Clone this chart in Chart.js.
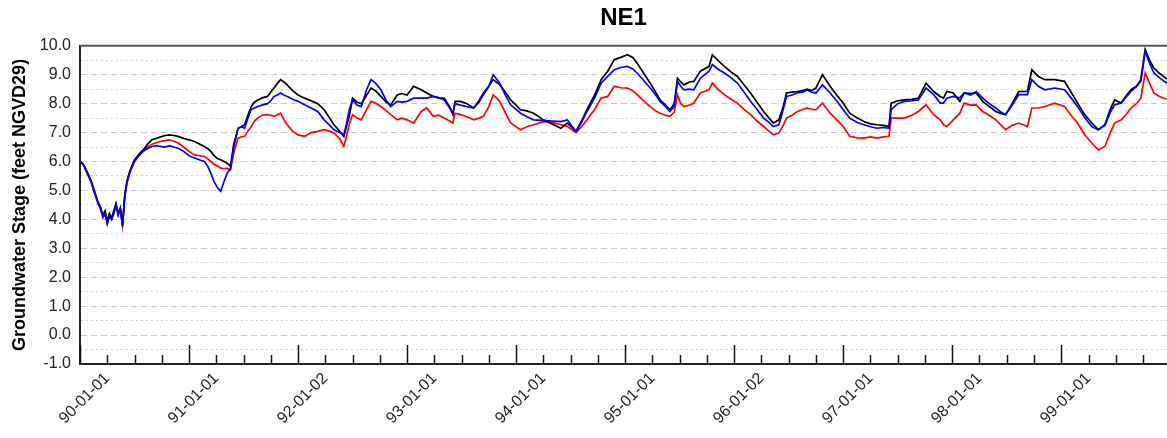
<!DOCTYPE html>
<html><head><meta charset="utf-8">
<script src="https://cdn.jsdelivr.net/npm/chart.js@4.4.0/dist/chart.umd.min.js"></script>
<style>html,body{margin:0;padding:0;background:#fff;} #wrap{width:1167px;height:438px;position:relative;}</style>
</head><body><div id="wrap"><canvas id="c" width="1167" height="438"></canvas></div>
<script>
// decimal years (water-year axis starting 1989-10-01)
const dates = [
1989.75,1989.78,1989.82,1989.85,1989.88,1989.91,1989.94,1989.96,1989.98,1990.00,
1990.02,1990.04,1990.06,1990.08,1990.10,1990.12,1990.14,1990.16,1990.18,1990.21,
1990.25,1990.29,1990.33,1990.37,1990.41,1990.45,1990.49,1990.53,1990.57,1990.61,
1990.65,1990.70,1990.75,1990.80,1990.85,1990.89,1990.92,1990.95,1990.98,1991.01,
1991.04,1991.07,1991.10,1991.13,1991.16,1991.20,1991.23,1991.26,1991.29,1991.32,
1991.35,1991.38,1991.42,1991.47,1991.50,1991.53,1991.56,1991.59,1991.62,1991.65,
1991.70,1991.75,1991.81,1991.87,1991.93,1991.99,1992.04,1992.08,1992.13,1992.17,
1992.20,1992.22,1992.25,1992.29,1992.33,1992.38,1992.42,1992.46,1992.51,1992.56,
1992.60,1992.66,1992.70,1992.75,1992.81,1992.88,1992.93,1992.99,1993.04,1993.09,
1993.14,1993.17,1993.19,1993.24,1993.30,1993.36,1993.41,1993.45,1993.50,1993.54,
1993.60,1993.65,1993.70,1993.75,1993.79,1993.85,1993.91,1994.00,1994.08,1994.16,
1994.22,1994.30,1994.35,1994.40,1994.47,1994.53,1994.59,1994.65,1994.71,1994.77,
1994.82,1994.86,1994.92,1994.98,1995.03,1995.07,1995.12,1995.16,1995.20,1995.23,
1995.26,1995.29,1995.34,1995.38,1995.44,1995.52,1995.55,1995.60,1995.66,1995.72,
1995.78,1995.84,1995.90,1995.96,1996.02,1996.07,1996.11,1996.16,1996.20,1996.23,
1996.28,1996.33,1996.38,1996.42,1996.46,1996.50,1996.56,1996.63,1996.69,1996.75,
1996.81,1996.88,1996.94,1997.00,1997.06,1997.12,1997.17,1997.19,1997.25,1997.31,
1997.38,1997.44,1997.51,1997.58,1997.64,1997.67,1997.70,1997.76,1997.82,1997.86,
1997.92,1997.97,1998.03,1998.09,1998.15,1998.20,1998.24,1998.30,1998.36,1998.44,
1998.48,1998.54,1998.60,1998.69,1998.78,1998.84,1998.90,1998.96,1999.03,1999.09,
1999.15,1999.20,1999.24,1999.30,1999.35,1999.39,1999.44,1999.48,1999.52,1999.56,
1999.60,1999.65,1999.72
];
const seriesBlack = [
6.0,5.9,5.6,5.35,5.0,4.65,4.4,4.15,4.3,3.95,
4.2,4.05,4.3,4.55,4.2,4.4,3.8,4.8,5.3,5.7,
6.05,6.25,6.4,6.6,6.75,6.8,6.85,6.9,6.92,6.9,
6.87,6.8,6.75,6.69,6.6,6.52,6.45,6.35,6.2,6.1,
6.06,6.0,5.94,5.83,6.6,7.15,7.2,7.27,7.6,7.9,
8.05,8.13,8.2,8.25,8.4,8.54,8.7,8.83,8.75,8.65,
8.45,8.3,8.19,8.1,8.0,7.79,7.5,7.27,7.05,6.87,
7.3,7.56,8.19,8.05,8.0,8.3,8.54,8.45,8.25,8.05,
7.96,8.3,8.35,8.3,8.6,8.48,8.37,8.25,8.2,8.19,
7.9,7.62,8.08,8.08,8.0,7.85,8.1,8.37,8.6,8.83,
8.65,8.4,8.13,7.95,7.79,7.75,7.67,7.44,7.3,7.15,
7.33,7.04,7.4,7.79,8.3,8.83,9.12,9.52,9.6,9.69,
9.6,9.4,9.05,8.71,8.4,8.13,7.95,7.79,8.0,8.88,
8.75,8.65,8.75,8.77,9.12,9.29,9.69,9.5,9.29,9.1,
8.94,8.65,8.37,8.05,7.73,7.5,7.33,7.44,7.9,8.37,
8.4,8.42,8.45,8.5,8.45,8.54,9.0,8.6,8.3,8.02,
7.67,7.5,7.38,7.3,7.27,7.25,7.21,8.02,8.1,8.13,
8.15,8.19,8.71,8.42,8.25,8.19,8.42,8.37,8.08,8.37,
8.35,8.37,8.08,7.9,7.73,7.65,7.62,8.0,8.42,8.42,
9.17,8.94,8.83,8.83,8.77,8.4,8.02,7.65,7.33,7.1,
7.27,7.8,8.13,8.02,8.3,8.48,8.6,8.83,9.87,9.5,
9.23,9.05,8.85
];
const seriesBlue = [
6.0,5.9,5.55,5.3,4.95,4.6,4.35,4.1,4.2,3.85,
4.1,4.0,4.2,4.5,4.15,4.35,3.75,4.75,5.25,5.65,
6.0,6.2,6.35,6.45,6.52,6.55,6.52,6.5,6.55,6.5,
6.46,6.35,6.2,6.12,6.05,6.0,5.85,5.6,5.3,5.1,
4.97,5.3,5.6,5.75,6.5,7.15,7.2,7.15,7.5,7.8,
7.85,7.9,7.95,8.0,8.1,8.25,8.3,8.37,8.3,8.25,
8.15,8.08,7.96,7.85,7.73,7.44,7.25,7.1,7.0,6.92,
7.4,7.8,8.13,7.95,7.9,8.5,8.83,8.71,8.48,8.1,
7.9,8.08,8.05,8.08,8.19,8.19,8.19,8.25,8.2,8.13,
7.85,7.67,8.0,7.95,7.9,7.85,8.05,8.31,8.6,9.0,
8.71,8.3,7.96,7.8,7.67,7.55,7.44,7.42,7.4,7.38,
7.44,7.04,7.35,7.73,8.2,8.71,8.94,9.17,9.25,9.29,
9.2,9.06,8.8,8.54,8.3,8.08,7.9,7.73,7.9,8.77,
8.6,8.48,8.5,8.48,8.88,9.12,9.35,9.2,9.06,8.9,
8.71,8.4,8.08,7.8,7.5,7.35,7.21,7.27,7.8,8.25,
8.3,8.37,8.4,8.48,8.4,8.37,8.65,8.37,8.1,7.79,
7.5,7.35,7.27,7.2,7.15,7.18,7.15,7.79,8.0,8.08,
8.1,8.13,8.54,8.31,8.02,8.02,8.19,8.25,8.2,8.37,
8.3,8.42,8.19,8.0,7.85,7.7,7.62,7.95,8.31,8.31,
8.83,8.6,8.48,8.54,8.48,8.2,7.9,7.55,7.21,7.1,
7.25,7.7,7.96,8.02,8.25,8.42,8.6,8.77,9.81,9.4,
9.06,8.9,8.7
];
const seriesRed = [
6.0,5.9,5.6,5.35,5.0,4.65,4.35,4.05,4.2,3.85,
4.15,4.0,4.2,4.5,4.15,4.35,3.8,4.8,5.3,5.7,
6.05,6.2,6.4,6.5,6.6,6.65,6.7,6.72,6.75,6.7,
6.64,6.5,6.35,6.23,6.2,6.17,6.1,6.0,5.9,5.85,
5.77,5.75,5.77,5.7,6.3,6.8,6.85,6.87,7.05,7.2,
7.4,7.5,7.6,7.62,7.6,7.56,7.62,7.67,7.45,7.27,
7.05,6.92,6.87,7.0,7.04,7.1,7.05,6.98,6.8,6.52,
6.95,7.3,7.62,7.5,7.44,7.8,8.08,8.02,7.9,7.75,
7.62,7.44,7.5,7.44,7.33,7.73,7.85,7.56,7.6,7.5,
7.4,7.33,7.67,7.62,7.55,7.44,7.5,7.56,7.9,8.31,
8.08,7.7,7.33,7.2,7.1,7.2,7.27,7.38,7.35,7.27,
7.21,7.0,7.2,7.44,7.8,8.19,8.25,8.6,8.55,8.54,
8.45,8.31,8.1,7.9,7.75,7.67,7.6,7.56,7.7,8.31,
8.0,7.9,7.95,8.02,8.37,8.48,8.71,8.5,8.31,8.15,
8.02,7.8,7.62,7.4,7.21,7.05,6.92,6.98,7.25,7.5,
7.6,7.73,7.8,7.85,7.8,7.79,8.02,7.67,7.45,7.21,
6.87,6.82,6.81,6.85,6.81,6.85,6.87,7.5,7.5,7.5,
7.6,7.73,7.96,7.62,7.44,7.27,7.21,7.44,7.67,8.02,
7.95,7.96,7.73,7.6,7.44,7.25,7.1,7.25,7.33,7.21,
7.85,7.85,7.9,8.02,7.9,7.6,7.33,6.95,6.64,6.4,
6.52,7.0,7.33,7.44,7.65,7.85,8.0,8.19,9.06,8.7,
8.37,8.25,8.15
];
const tickYears = [1990,1991,1992,1993,1994,1995,1996,1997,1998,1999];
const tickLabels = ['90-01-01','91-01-01','92-01-02','93-01-01','94-01-01','95-01-01','96-01-02','97-01-01','98-01-01','99-01-01'];
const yTicks = [-1,-0.5,0,0.5,1,1.5,2,2.5,3,3.5,4,4.5,5,5.5,6,6.5,7,7.5,8,8.5,9,9.5,10];

const pts = arr => arr.map((v,i)=>({x:dates[i], y:v}));
const FONT = 'Liberation Sans, Arial, sans-serif';
const isWhole = v => Math.abs(v - Math.round(v)) < 1e-9;

const framePlugin = {
  id:'frame',
  afterDatasetsDraw(chart){
    const {ctx, chartArea:a, scales:{x}} = chart;
    ctx.save();
    ctx.strokeStyle = '#555'; ctx.lineWidth = 2;
    ctx.beginPath(); ctx.moveTo(a.left, a.top); ctx.lineTo(a.right, a.top); ctx.stroke();
    ctx.strokeStyle = '#111'; ctx.lineWidth = 1.5;
    for (let k = 0; x.min + k * 0.25 <= x.max + 1e-6; k++) {
      const q = x.min + k * 0.25;
      const major = (k % 4) === 0;
      const px = Math.round(x.getPixelForValue(q)) + 0.5;
      const len = major ? 19 : 9;
      ctx.beginPath(); ctx.moveTo(px, a.bottom); ctx.lineTo(px, a.bottom - len); ctx.stroke();
    }
    ctx.restore();
  }
};

new Chart(document.getElementById('c'), {
  type:'line',
  data:{datasets:[
    {label:'blue', data:pts(seriesBlue), borderColor:'#0000ff', borderWidth:1.7, pointRadius:0, tension:0, fill:false, order:0},
    {label:'black', data:pts(seriesBlack), borderColor:'#000000', borderWidth:1.7, pointRadius:0, tension:0, fill:false, order:1},
    {label:'red', data:pts(seriesRed), borderColor:'#ff0000', borderWidth:1.7, pointRadius:0, tension:0, fill:false, order:2}
  ]},
  options:{
    responsive:false, animation:false, devicePixelRatio:1,
    layout:{padding:{left:0,right:0,top:0,bottom:0}},
    plugins:{
      legend:{display:false}, tooltip:{enabled:false},
      title:{display:true, text:'NE1', fullSize:false, color:'#000',
        font:{family:FONT, size:24, weight:'bold'}, padding:{top:4, bottom:13}}
    },
    scales:{
      x:{type:'linear', min:1989.75, max:1999.72,
        afterBuildTicks:s=>{ s.ticks = tickYears.map(v=>({value:v})); },
        afterFit:s=>{ s.height = 74; },
        grid:{display:false, drawTicks:false},
        border:{display:true, color:'#222', width:2},
        ticks:{autoSkip:false, minRotation:45, maxRotation:45, padding:5, color:'#222',
          font:{family:FONT, size:16}, callback:(v,i)=>tickLabels[i]}
      },
      y:{min:-1, max:10,
        afterBuildTicks:s=>{ s.ticks = yTicks.map(v=>({value:v})); },
        afterFit:s=>{ s.width = 80; },
        grid:{drawTicks:false, lineWidth:1,
          color:c=> (c.tick && isWhole(c.tick.value)) ? '#c8c8c8' : '#c0c0c0'},
        border:{display:true, color:'#222', width:2,
          dash:c=> c.tick ? (isWhole(c.tick.value) ? [6,4] : [1.5,3.5]) : []},
        ticks:{autoSkip:false, padding:9, color:'#222', font:{family:FONT, size:16},
          callback:v=> isWhole(v) ? v.toFixed(1) : ''},
        title:{display:true, text:'Groundwater Stage (feet NGVD29)', color:'#000',
          font:{family:FONT, size:18, weight:'bold'}, padding:{top:9, bottom:0}}
      }
    }
  },
  plugins:[framePlugin]
});
</script></body></html>
